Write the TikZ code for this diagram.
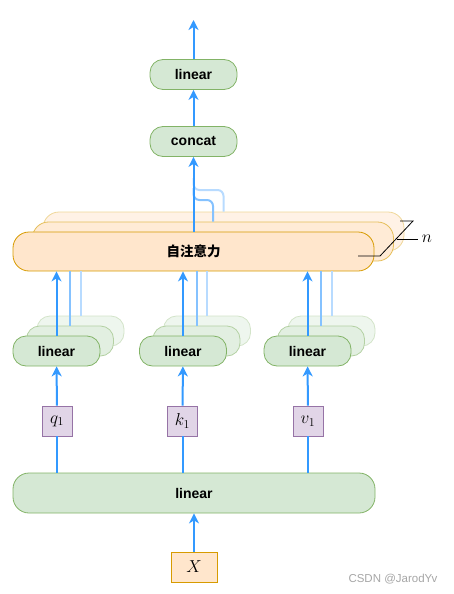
\documentclass[tikz,border=0pt]{standalone}
\usepackage{fontspec}
\newfontfamily\boxfont{Liberation Sans}
\newfontfamily\cjk{Noto Sans CJK SC}
\usetikzlibrary{arrows.meta}
\definecolor{greenfill}{HTML}{D5E8D4}
\definecolor{greenline}{HTML}{82B366}
\definecolor{orangefill}{HTML}{FFE6CC}
\definecolor{orangeline}{HTML}{D79B00}
\definecolor{purplefill}{HTML}{E1D5E7}
\definecolor{purpleline}{HTML}{9673A6}
\definecolor{mainblue}{HTML}{3399FF}
\begin{document}
\begin{tikzpicture}[x=1pt, y=-1pt,
	lin/.style = {draw=greenline, fill=greenfill, line width=0.8pt, rounded corners=13pt, minimum width=87pt, minimum height=30pt, inner sep=0pt, font=\boxfont\bfseries\fontsize{14}{16}\selectfont},
	linmid/.style = {lin, draw=greenline!60!white, fill=greenfill!70!white},
	linback/.style = {lin, draw=greenline!35!white, fill=greenfill!40!white},
	att/.style = {draw=orangeline, fill=orangefill, line width=0.8pt, rounded corners=16pt, minimum width=361pt, minimum height=39pt, inner sep=0pt, font=\cjk\bfseries\fontsize{13.5}{16}\selectfont},
	attmid/.style = {att, draw=orangeline!65!white, fill=orangefill!80!white},
	attback/.style = {att, draw=orangeline!40!white, fill=orangefill!50!white},
	var/.style = {draw=purpleline, fill=purplefill, line width=0.8pt, minimum size=30pt, inner sep=0pt, font=\LARGE},
	wire/.style = {draw=mainblue, line width=2pt},
	midwire/.style = {draw=mainblue!60!white, line width=2pt},
	backwire/.style = {draw=mainblue!35!white, line width=2pt},
	arrow/.style = {wire, -{Stealth[length=10pt,width=10pt,inset=3pt]}}]
	\useasboundingbox (0,0) rectangle (454,594);
	% input
	\node[att, minimum width=46pt, minimum height=30pt, rounded corners=0pt, font=\LARGE] (x) at (194,567) {$X$};
	\node[lin, minimum width=362pt, minimum height=40pt, rounded corners=16pt] (proj) at (194,493) {linear};
	\node[var] (q) at (57,421) {$q_1$};
	\node[var] (k) at (182.5,421) {$k_1$};
	\node[var] (v) at (308,421) {$v_1$};
	% linear stacks
	\node[linback] (lq3) at (80.5,331) {};
	\node[linmid] (lq2) at (70,341) {};
	\node[lin] (lq1) at (56.5,351) {linear};
	\node[linback] (lk3) at (207,331) {};
	\node[linmid] (lk2) at (196.5,341) {};
	\node[lin] (lk1) at (183,351) {linear};
	\node[linback] (lv3) at (331.5,331) {};
	\node[linmid] (lv2) at (321,341) {};
	\node[lin] (lv1) at (307.5,351) {linear};
	% attention stack
	\node[attback] (att3) at (223.5,231.5) {};
	\node[attmid] (att2) at (213,241.5) {};
	\node[att] (att1) at (193.5,251.5) {自注意力};
	\node[lin] (concat) at (193.5,141.5) {concat};
	\node[lin] (out) at (193.5,74.5) {linear};
	\coordinate (top) at (193.5,20);
	\coordinate (j2) at (193.5,200);
	\coordinate (j3) at (193.5,190);
	% n bracket
	\node[font=\LARGE] (n) at (427,239) {$n$};
	\draw[line width=0.8pt] (358,256) -- (380,256) -- (413,221) -- (400,221);
	\draw[line width=0.8pt] (396.5,239) -- (n.west);
	% connectors
	\draw[arrow] (x) -- (proj);
	\draw[wire] (proj.north -| q) -- (q);
	\draw[wire] (proj.north -| k) -- (k);
	\draw[wire] (proj.north -| v) -- (v);
	\draw[arrow] (q) -- (lq1);
	\draw[arrow] (k) -- (lk1);
	\draw[arrow] (v) -- (lv1);
	\draw[backwire] (lq3.north) -- (lq3.north |- att1.south);
	\draw[midwire] (lq2.north) -- (lq2.north |- att1.south);
	\draw[arrow] (lq1.north) -- (lq1.north |- att1.south);
	\draw[backwire] (lk3.north) -- (lk3.north |- att1.south);
	\draw[midwire] (lk2.north) -- (lk2.north |- att1.south);
	\draw[arrow] (lk1.north) -- (lk1.north |- att1.south);
	\draw[backwire] (lv3.north) -- (lv3.north |- att1.south);
	\draw[midwire] (lv2.north) -- (lv2.north |- att1.south);
	\draw[arrow] (lv1.north) -- (lv1.north |- att1.south);
	\draw[backwire, rounded corners=6pt] (att3.north) |- (j3) -- ++(0,-12);
	\draw[midwire, rounded corners=6pt] (att2.north) |- (j2) -- ++(0,-12);
	\draw[arrow] (att1.north) -- (concat);
	\draw[arrow] (concat) -- (out);
	\draw[arrow] (out) -- (top);
	\node[font=\boxfont\fontsize{11.5}{13}\selectfont, text=gray!70] (mark) at (393,579) {CSDN @JarodYv};
\end{tikzpicture}
\end{document}
